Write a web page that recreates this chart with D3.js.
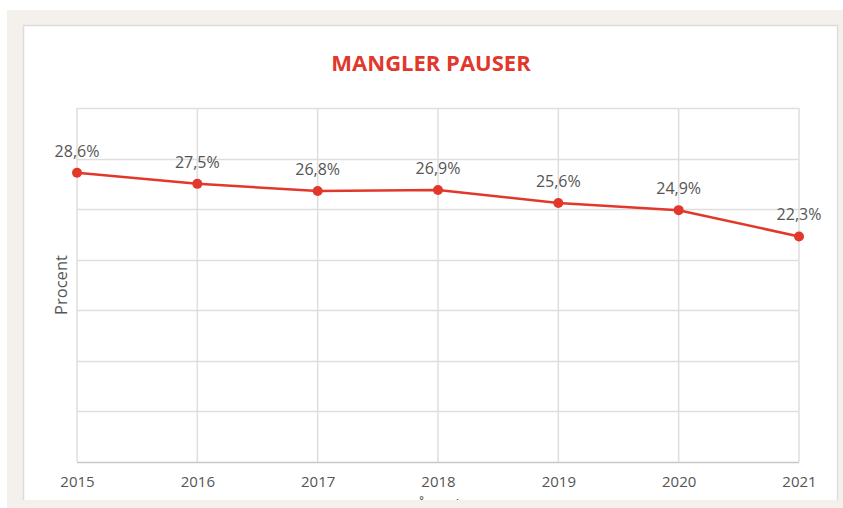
<!DOCTYPE html>
<style>
body { margin: 0; background: #fff; }
svg { display: block; }
text { font-family: "Open Sans", sans-serif; }
</style>
<svg width="843" height="508"></svg>
<script src="https://d3js.org/d3.v7.min.js"></script>
<script>
var years = ["2015", "2016", "2017", "2018", "2019", "2020", "2021"];
var values = [28.6, 27.5, 26.8, 26.9, 25.6, 24.9, 22.3];
var labels = ["28,6%", "27,5%", "26,8%", "26,9%", "25,6%", "24,9%", "22,3%"];
var yTicks = [0, 5, 10, 15, 20, 25, 30, 35];

var svg = d3.select("svg");
var red = "#e2382b";

// beige frame + white panel
svg.append("rect").attr("x", 7).attr("y", 10).attr("width", 836).attr("height", 498).attr("fill", "#f4f1ec");
svg.append("rect").attr("x", 23.5).attr("y", 25.5).attr("width", 814).attr("height", 490)
  .attr("fill", "#fff").attr("stroke", "#dcdcdc").attr("stroke-width", 1.5);

var plotL = 77, plotR = 799, plotT = 108, plotB = 462;

var x = d3.scalePoint().domain(years).range([plotL, plotR]);
var y = d3.scaleLinear().domain([0, 35]).range([plotB, plotT]);

// gridlines
svg.append("g").selectAll("line").data(yTicks).enter().append("line")
  .attr("x1", plotL).attr("x2", plotR)
  .attr("y1", function(d) { return Math.round(y(d)) + 0.5; })
  .attr("y2", function(d) { return Math.round(y(d)) + 0.5; })
  .attr("stroke", function(d) { return d == 0 ? "#c8c8c8" : "#dedede"; })
  .attr("stroke-width", 1.5);

svg.append("g").selectAll("line").data(years).enter().append("line")
  .attr("x1", function(d) { return x(d); }).attr("x2", function(d) { return x(d); })
  .attr("y1", plotT).attr("y2", plotB)
  .attr("stroke", "#dedede").attr("stroke-width", 1.5);

// x axis labels
var xAxis = d3.axisBottom(x).tickSize(0).tickPadding(14);
var gx = svg.append("g").attr("transform", "translate(0," + plotB + ")").call(xAxis);
gx.select(".domain").remove();
gx.selectAll("text").attr("font-size", 15).attr("fill", "#555")
  .style("font-family", "'Open Sans', sans-serif");

// title
svg.append("text").attr("x", 431).attr("y", 71).attr("text-anchor", "middle")
  .attr("font-size", 22).attr("font-weight", "bold").attr("fill", red)
  .text("MANGLER PAUSER");

// axis titles
svg.append("text").attr("transform", "translate(67," + ((plotT + plotB) / 2) + ") rotate(-90)")
  .attr("text-anchor", "middle").attr("font-size", 16.5).attr("fill", "#555").text("Procent");
svg.append("text").attr("x", 438).attr("y", 511).attr("text-anchor", "middle")
  .attr("font-size", 16).attr("fill", "#555").text("Årstal");

// bottom beige band covers the x title
svg.append("rect").attr("x", 7).attr("y", 500).attr("width", 836).attr("height", 8).attr("fill", "#f4f1ec");

// line
var pts = years.map(function(d, i) { return [x(d), y(values[i])]; });
svg.append("path").datum(pts)
  .attr("d", d3.line())
  .attr("fill", "none").attr("stroke", red).attr("stroke-width", 2.5);

svg.append("g").selectAll("circle").data(pts).enter().append("circle")
  .attr("cx", function(d) { return d[0]; }).attr("cy", function(d) { return d[1]; })
  .attr("r", 5).attr("fill", red);

svg.append("g").selectAll("text").data(pts).enter().append("text")
  .attr("x", function(d) { return d[0]; }).attr("y", function(d) { return d[1] - 16; })
  .attr("text-anchor", "middle").attr("font-size", 16).attr("fill", "#555")
  .text(function(d, i) { return labels[i]; });
</script>
